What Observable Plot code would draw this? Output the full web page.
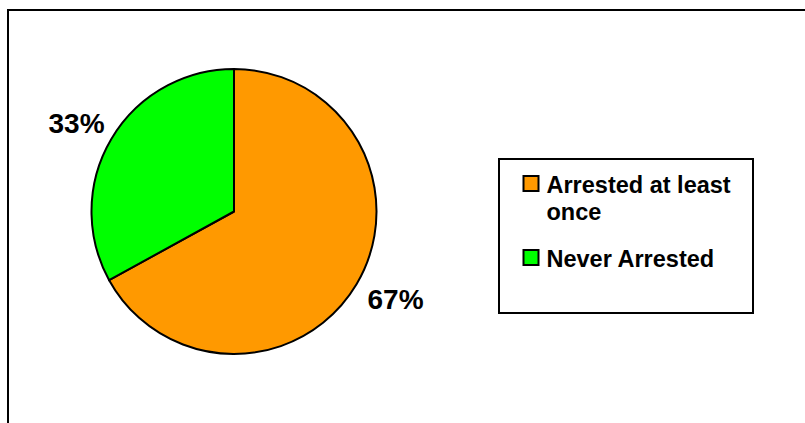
<!DOCTYPE html>
<html>
<head>
<meta charset="utf-8">
<script src="https://cdn.jsdelivr.net/npm/d3@7"></script>
<script src="https://cdn.jsdelivr.net/npm/@observablehq/plot@0.6"></script>
<style>
  html, body { margin: 0; padding: 0; background: #fff; }
  svg { display: block; }
</style>
</head>
<body>
<div id="chart"></div>
<script>
// Data
const categories = ["Arrested at least once", "Never Arrested"];
const values = [67, 33];
const labels = ["67%", "33%"];
const legendLines = [["Arrested at least", "once"], ["Never Arrested"]];
const colors = ["#FF9900", "#00FF00"];

// Layout constants (pixels)
const W = 805, H = 423;
const cx = 234, cy = 211.5, R = 142.5;

const arcs = d3.pie().sort(null).value(d => d.value)(
  categories.map((c, i) => ({ category: c, value: values[i], label: labels[i] }))
);

// label anchor positions (in pixel space) for each slice
const labelPos = [
  { x: 395, y: 300 },
  { x: 76, y: 124 }
];
const labelData = arcs.map((a, i) => ({ label: a.data.label, ...labelPos[i] }));

// legend rows
const legendRows = [
  { category: categories[0], sx: 531, sy: 183.5, lines: legendLines[0], tx: 546, ty: 192 },
  { category: categories[1], sx: 531, sy: 257.5, lines: legendLines[1], tx: 546, ty: 266 }
];
const legendText = legendRows.flatMap(r => r.lines.map((t, j) => ({ text: t, x: r.tx, y: r.ty + j * 27 })));

// Pie mark via custom render using Plot scales
const pieMark = Plot.dot(arcs, {
  x: () => cx, y: () => cy,
  render(index, scales, values, dimensions, context) {
    const g = d3.create("svg:g");
    const X = scales.x, Y = scales.y;
    const ox = X(cx), oy = Y(cy);
    const r = X(cx + R) - X(cx);
    const arcGen = d3.arc().innerRadius(0).outerRadius(r);
    g.selectAll("path")
      .data(Array.from(index, i => arcs[i]))
      .join("path")
      .attr("transform", `translate(${ox},${oy})`)
      .attr("d", arcGen)
      .attr("fill", d => scales.color(d.data.category))
      .attr("stroke", "#000")
      .attr("stroke-width", 2)
      .attr("stroke-linejoin", "round");
    return g.node();
  }
});

const chart = Plot.plot({
  width: W,
  height: H,
  margin: 0,
  style: { fontFamily: "'Liberation Sans', Arial, sans-serif", background: "#fff" },
  x: { domain: [0, W], range: [0, W], axis: null },
  y: { domain: [0, H], range: [0, H], axis: null },
  color: { domain: categories, range: colors },
  marks: [
    // outer chart border
    Plot.rect([0], { x1: () => 8, y1: () => 10, x2: () => W + 20, y2: () => H + 20, fill: "none", stroke: "#000", strokeWidth: 2 }),
    pieMark,
    Plot.text(labelData, {
      x: "x", y: "y", text: "label",
      fontSize: 28, fontWeight: "bold", fill: "#000", textAnchor: "middle"
    }),
    // legend box
    Plot.rect([0], { x1: () => 499, y1: () => 159, x2: () => 753, y2: () => 313, fill: "#fff", stroke: "#000", strokeWidth: 2 }),
    Plot.rect(legendRows, {
      x1: d => d.sx - 7.5, x2: d => d.sx + 7.5,
      y1: d => d.sy - 7.5, y2: d => d.sy + 7.5,
      fill: "category", stroke: "#000", strokeWidth: 2
    }),
    Plot.text(legendText, {
      x: "x", y: "y", text: "text",
      fontSize: 23.5, fontWeight: "bold", fill: "#000",
      textAnchor: "start", lineAnchor: "bottom"
    })
  ]
});

document.getElementById("chart").append(chart);
</script>
</body>
</html>
